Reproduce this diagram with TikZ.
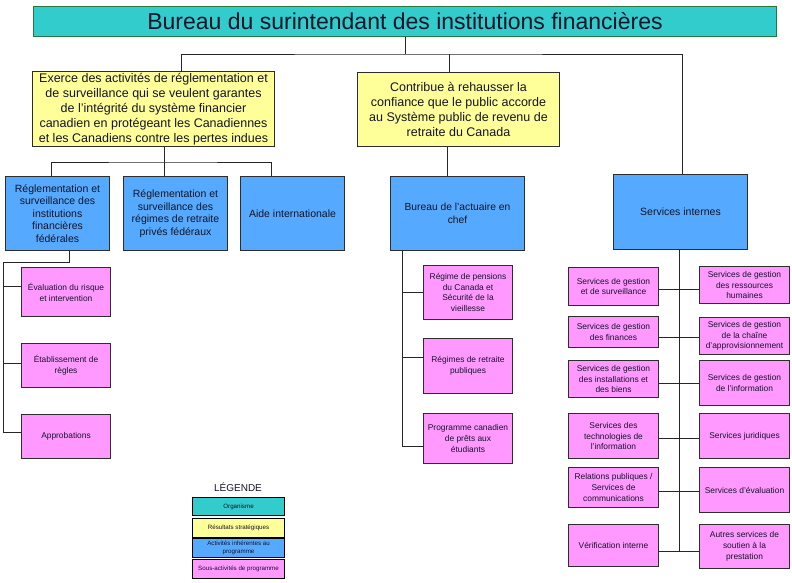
\documentclass[tikz,border=0pt]{standalone}
\usepackage{fontspec}
\setmainfont{Liberation Sans}
\definecolor{cteal}{RGB}{51,204,204}
\definecolor{cyel}{RGB}{255,255,153}
\definecolor{cblue}{RGB}{85,170,255}
\definecolor{cpink}{RGB}{255,153,255}
\definecolor{bline}{RGB}{45,45,45}
\definecolor{tline}{RGB}{40,120,60}
\definecolor{ctext}{RGB}{20,20,40}
\tikzset{
  box/.style={draw=bline, line width=1pt, inner sep=1pt, align=center, anchor=north west, text=ctext},
  orgbox/.style={box, fill=cteal, draw=tline},
  resbox/.style={box, fill=cyel},
  actbox/.style={box, fill=cblue},
  subbox/.style={box, fill=cpink, font=\fontsize{8.4}{10.8}\selectfont},
  legbox/.style={box, draw=black, line width=1.1pt, font=\fontsize{6.2}{7.5}\selectfont, minimum width=92pt},
  conn/.style={draw=black!85, line width=0.9pt}
}
\begin{document}
\begin{tikzpicture}[x=1pt,y=-1pt]
\useasboundingbox (0,0) rectangle (792,583);
% organisme
\node[orgbox, minimum width=743pt, minimum height=30pt, font=\fontsize{23}{26}\selectfont] (top) at (33,6) {Bureau du surintendant des institutions financières};
% resultats
\node[resbox, minimum width=242pt, minimum height=75pt, font=\fontsize{12.5}{15}\selectfont] (y1) at (32,71) {Exerce des activités de réglementation et\\de surveillance qui se veulent garantes\\de l'intégrité du système financier\\canadien en protégeant les Canadiennes\\et les Canadiens contre les pertes indues};
\node[resbox, minimum width=202pt, minimum height=74pt, font=\fontsize{12.5}{15}\selectfont] (y2) at (357,72) {Contribue à rehausser la\\confiance que le public accorde\\au Système public de revenu de\\retraite du Canada};
% activites
\node[actbox, minimum width=104pt, minimum height=74pt, font=\fontsize{10.5}{12.5}\selectfont] (b1) at (5,176) {Réglementation et\\surveillance des\\institutions\\financières\\fédérales};
\node[actbox, minimum width=104pt, minimum height=74pt, font=\fontsize{10.5}{12.5}\selectfont] (b2) at (123,176) {Réglementation et\\surveillance des\\régimes de retraite\\privés fédéraux};
\node[actbox, minimum width=104pt, minimum height=74pt, font=\fontsize{10.5}{12.5}\selectfont] (b3) at (240,176) {Aide internationale};
\node[actbox, minimum width=134pt, minimum height=74pt, font=\fontsize{10.3}{12.5}\selectfont] (b4) at (390,176) {Bureau de l'actuaire en\\chef};
\node[actbox, minimum width=134pt, minimum height=75pt, font=\fontsize{10.5}{12.5}\selectfont] (b5) at (613,174) {Services internes};
% sous-activites gauche
\node[subbox, minimum width=89pt, minimum height=49pt] (p1) at (21,267) {Évaluation du risque\\et intervention};
\node[subbox, minimum width=89pt, minimum height=44pt] (p2) at (21,343) {Établissement de\\règles};
\node[subbox, minimum width=89pt, minimum height=44pt] (p3) at (21,414) {Approbations};
% sous-activites milieu
\node[subbox, minimum width=89pt, minimum height=54pt] (m1) at (423,265) {Régime de pensions\\du Canada et\\Sécurité de la\\vieillesse};
\node[subbox, minimum width=89pt, minimum height=55pt] (m2) at (423,338) {Régimes de retraite\\publiques};
\node[subbox, minimum width=89pt, minimum height=50pt] (m3) at (423,413) {Programme canadien\\de prêts aux\\étudiants};
% services internes
\node[subbox, minimum width=90pt, minimum height=38pt] (r1L) at (568,267) {Services de gestion\\et de surveillance};
\node[subbox, minimum width=90pt, minimum height=37pt] (r1R) at (699,266) {Services de gestion\\des ressources\\humaines};
\node[subbox, minimum width=90pt, minimum height=31pt] (r2L) at (568,316) {Services de gestion\\des finances};
\node[subbox, minimum width=90pt, minimum height=37pt] (r2R) at (699,317) {Services de gestion\\de la chaîne\\d'approvisionnement};
\node[subbox, minimum width=90pt, minimum height=37pt] (r3L) at (568,360) {Services de gestion\\des installations et\\des biens};
\node[subbox, minimum width=90pt, minimum height=45pt] (r3R) at (699,360) {Services de gestion\\de l'information};
\node[subbox, minimum width=90pt, minimum height=45pt] (r4L) at (568,413) {Services des\\technologies de\\l'information};
\node[subbox, minimum width=90pt, minimum height=45pt] (r4R) at (699,413) {Services juridiques};
\node[subbox, minimum width=90pt, minimum height=40pt] (r5L) at (568,467) {Relations publiques /\\Services de\\communications};
\node[subbox, minimum width=90pt, minimum height=45pt] (r5R) at (699,467) {Services d'évaluation};
\node[subbox, minimum width=90pt, minimum height=42pt] (r6L) at (568,524) {Vérification interne};
\node[subbox, minimum width=90pt, minimum height=44pt] (r6R) at (699,524) {Autres services de\\soutien à la\\prestation};
% legende
\node[font=\fontsize{10}{12}\selectfont, text=ctext] (legt) at (238,487) {LÉGENDE};
\node[legbox, fill=cteal, minimum height=18pt] (lg1) at (192,497) {Organisme};
\node[legbox, fill=cyel, minimum height=19pt] (lg2) at (192,518) {Résultats stratégiques};
\node[legbox, fill=cblue, minimum height=19pt] (lg3) at (192,538) {Activités inhérentes au\\programme};
\node[legbox, fill=cpink, minimum height=19pt] (lg4) at (192,559) {Sous-activités de programme};
% connectors top level
\coordinate (jt) at (top.south |- 0,54);
\draw[conn] (top.south) -- (jt);
\draw[conn] ([xshift=28pt]y1.north) |- (jt) -| ([xshift=2pt]b5.north);
\draw[conn] ([xshift=-9pt]y2.north) -- ([xshift=-9pt]y2.north |- jt);
% y1 to activities
\coordinate (j1) at ([xshift=11pt]y1.south |- 0,162);
\draw[conn] ([xshift=11pt]y1.south) -- ([xshift=11pt]y1.south |- b2.north);
\draw[conn] ([xshift=-6pt]b1.north) |- (j1) -| ([xshift=-21pt]b3.north);
% y2 to b4
\draw[conn] ([xshift=-11pt]y2.south) -- ([xshift=-11pt]y2.south |- b4.north);
% b1 to sub
\coordinate (jL) at (3,262);
\draw[conn] ([xshift=12pt]b1.south) |- (jL) |- ([yshift=4pt]p3.west);
\draw[conn] ([yshift=5.5pt]p1.west) -- ([yshift=5.5pt]p1.west -| jL);
\draw[conn] ([yshift=2pt]p2.west) -- ([yshift=2pt]p2.west -| jL);
% b4 to sub
\coordinate (jM) at ([xshift=-55pt]b4.south);
\draw[conn] (jM) |- ([yshift=-8pt]m3.west);
\draw[conn] (m1.west) -- (m1.west -| jM);
\draw[conn] ([yshift=8.5pt]m2.west) -- ([yshift=8.5pt]m2.west -| jM);
% services internes
\coordinate (c1) at ([yshift=-3pt]r1L.east);
\coordinate (c2) at ([yshift=-5.5pt]r2L.east);
\coordinate (c3) at ([yshift=-4.5pt]r3L.east);
\coordinate (c4) at ([yshift=-2.5pt]r4L.east);
\coordinate (c5) at ([yshift=-4pt]r5L.east);
\coordinate (c6) at ([yshift=-6pt]r6L.east);
\coordinate (jR) at ([xshift=-1pt]b5.south);
\draw[conn] (jR) -- (jR |- c6);
\draw[conn] (c1) -- (c1 -| r1R.west);
\draw[conn] (c2) -- (c2 -| r2R.west);
\draw[conn] (c3) -- (c3 -| r3R.west);
\draw[conn] (c4) -- (c4 -| r4R.west);
\draw[conn] (c5) -- (c5 -| r5R.west);
\draw[conn] (c6) -- (c6 -| r6R.west);
\end{tikzpicture}
\end{document}
